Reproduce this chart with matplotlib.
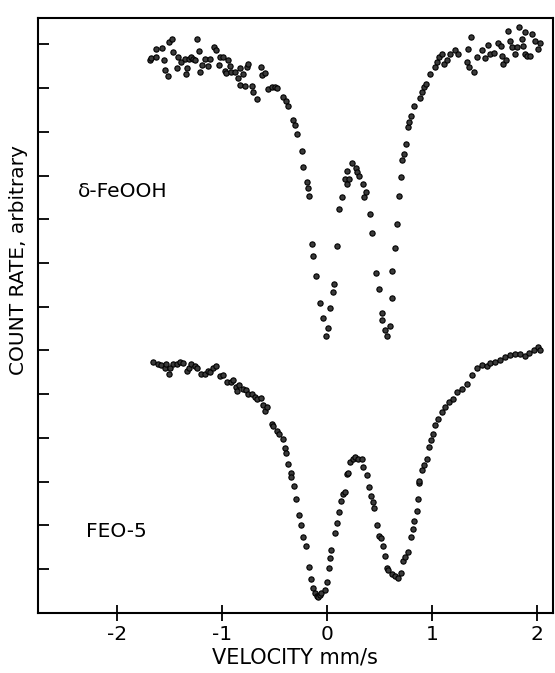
import matplotlib
matplotlib.use('Agg')
import matplotlib.pyplot as plt

plt.rcParams['axes.unicode_minus'] = False
plt.rcParams['font.family'] = ['DejaVu Sans']

# ---- data: delta-FeOOH (upper spectrum) ----
top_v = [-1.686, -1.670, -1.629, -1.622, -1.565, -1.552, -1.543, -1.511, -1.502, -1.479,
         -1.463, -1.431, -1.416, -1.384, -1.352, -1.343, -1.336, -1.311, -1.289, -1.273,
         -1.257, -1.232, -1.216, -1.210, -1.184, -1.162, -1.130, -1.114, -1.076, -1.057,
         -1.026, -1.019, -0.993, -0.971, -0.962, -0.940, -0.924, -0.908, -0.876, -0.845,
         -0.829, -0.829, -0.797, -0.781, -0.765, -0.750, -0.708, -0.702, -0.663, -0.631,
         -0.622, -0.590, -0.559, -0.527, -0.495, -0.479, -0.422, -0.390, -0.368, -0.327,
         -0.305, -0.283, -0.241, -0.225,
         -0.193, -0.178, -0.168, -0.146, -0.136, -0.105, -0.067, -0.035, -0.010, 0.013,
         0.029, 0.054, 0.067, 0.092, 0.114, 0.140, 0.171, 0.188, 0.194, 0.213,
         0.235, 0.273, 0.283, 0.305, 0.340, 0.352, 0.371, 0.410, 0.429, 0.467,
         0.495, 0.521, 0.527, 0.552, 0.568, 0.600, 0.616, 0.625, 0.648, 0.667,
         0.686, 0.705, 0.711, 0.736,
         0.752, 0.774, 0.784, 0.797, 0.832, 0.886, 0.902, 0.924, 0.943, 0.981,
         1.029, 1.045, 1.070, 1.092, 1.114, 1.140, 1.171, 1.219, 1.251, 1.330,
         1.346, 1.355, 1.368, 1.400, 1.426, 1.473, 1.505, 1.537, 1.552, 1.590,
         1.632, 1.654, 1.663, 1.673, 1.705, 1.727, 1.743, 1.759, 1.790, 1.806,
         1.832, 1.854, 1.870, 1.886, 1.886, 1.908, 1.933, 1.949, 1.981, 2.013, 2.029]
top_c = [12.63, 12.68, 12.72, 12.89, 12.91, 12.63, 12.41, 12.27, 13.06, 13.12,
         12.82, 12.45, 12.70, 12.59, 12.66, 12.32, 12.45, 12.66, 12.72, 12.66,
         12.63, 13.12, 12.85, 12.37, 12.53, 12.66, 12.51, 12.66, 12.93, 12.88,
         12.53, 12.70, 12.72, 12.40, 12.34, 12.64, 12.51, 12.36, 12.36, 12.22,
         12.45, 12.07, 12.32, 12.05, 12.47, 12.55, 12.05, 11.90, 11.75, 12.47,
         12.30, 12.34, 11.98, 12.02, 12.02, 11.99, 11.79, 11.71, 11.60, 11.26,
         11.16, 10.95, 10.55, 10.19,
         9.85, 9.71, 9.54, 8.44, 8.16, 7.70, 7.09, 6.74, 6.33, 6.51,
         6.97, 7.34, 7.53, 8.38, 9.24, 9.51, 9.92, 10.10, 9.81, 9.92,
         10.28, 10.17, 10.08, 10.00, 9.81, 9.51, 9.62, 9.11, 8.68, 7.77,
         7.41, 6.86, 6.70, 6.47, 6.33, 6.56, 7.21, 7.81, 8.34, 8.90,
         9.54, 9.96, 10.36, 10.50,
         10.71, 11.12, 11.22, 11.37, 11.58, 11.77, 11.90, 12.03, 12.09, 12.32,
         12.47, 12.59, 12.72, 12.78, 12.55, 12.64, 12.78, 12.87, 12.78, 12.59,
         12.89, 12.47, 13.17, 12.36, 12.72, 12.86, 12.69, 12.99, 12.78, 12.79,
         13.04, 12.97, 12.74, 12.55, 12.63, 13.31, 13.08, 12.93, 12.78, 12.93,
         13.40, 13.12, 12.95, 12.78, 13.27, 12.74, 12.74, 13.23, 13.08, 12.89, 13.04]

# ---- data: FEO-5 (lower spectrum) ----
bot_v = [-1.654, -1.606, -1.575, -1.543, -1.527, -1.502, -1.489, -1.463, -1.431, -1.400,
         -1.368, -1.336, -1.311, -1.289, -1.257, -1.235, -1.194, -1.162, -1.130, -1.108,
         -1.083, -1.051, -1.019, -0.987, -0.949, -0.917, -0.892, -0.867, -0.860, -0.835,
         -0.797, -0.771, -0.750, -0.717, -0.686, -0.663, -0.631, -0.606, -0.590, -0.574,
         -0.527, -0.511, -0.479, -0.454, -0.422, -0.400, -0.390, -0.368, -0.346, -0.337,
         -0.314, -0.295, -0.263, -0.248, -0.225, -0.194, -0.171, -0.152, -0.136, -0.114,
         -0.098, -0.083, -0.067, -0.051, -0.019, -0.003, 0.022, 0.029, 0.044, 0.076,
         0.092, 0.117, 0.133, 0.155, 0.171, 0.194, 0.203, 0.225, 0.245, 0.267,
         0.298, 0.330, 0.346, 0.384, 0.403, 0.425, 0.441, 0.451, 0.479, 0.498,
         0.511, 0.530, 0.552, 0.568, 0.584, 0.616, 0.648, 0.679, 0.702, 0.727,
         0.743, 0.775, 0.797, 0.816, 0.829, 0.854, 0.870, 0.879, 0.879, 0.902,
         0.927, 0.949, 0.971, 0.987, 1.006, 1.029, 1.060, 1.092, 1.124, 1.165,
         1.197, 1.235, 1.283, 1.330, 1.378, 1.425, 1.473, 1.521, 1.552, 1.600,
         1.648, 1.695, 1.743, 1.790, 1.838, 1.886, 1.927, 1.971, 2.013, 2.029]
bot_c = [5.74, 5.68, 5.66, 5.61, 5.70, 5.47, 5.59, 5.68, 5.68, 5.74,
         5.71, 5.53, 5.59, 5.68, 5.64, 5.59, 5.47, 5.47, 5.53, 5.51,
         5.61, 5.64, 5.41, 5.43, 5.28, 5.28, 5.33, 5.17, 5.08, 5.20,
         5.13, 5.09, 5.01, 5.00, 4.94, 4.90, 4.92, 4.75, 4.62, 4.71,
         4.33, 4.27, 4.16, 4.10, 3.97, 3.76, 3.66, 3.40, 3.19, 3.10,
         2.90, 2.60, 2.25, 2.01, 1.73, 1.54, 1.06, 0.78, 0.56, 0.45,
         0.39, 0.37, 0.41, 0.46, 0.53, 0.71, 1.02, 1.25, 1.45, 1.83,
         2.06, 2.31, 2.56, 2.72, 2.77, 3.17, 3.19, 3.45, 3.53, 3.57,
         3.51, 3.53, 3.33, 3.15, 2.87, 2.67, 2.54, 2.39, 2.01, 1.76,
         1.71, 1.53, 1.30, 1.02, 0.98, 0.89, 0.84, 0.81, 0.91, 1.19,
         1.29, 1.40, 1.73, 1.93, 2.11, 2.34, 2.60, 2.96, 3.02, 3.26,
         3.38, 3.53, 3.80, 3.95, 4.10, 4.29, 4.44, 4.60, 4.71, 4.82,
         4.90, 5.05, 5.13, 5.24, 5.43, 5.59, 5.66, 5.64, 5.71, 5.74,
         5.78, 5.85, 5.89, 5.93, 5.91, 5.87, 5.94, 6.00, 6.07, 6.00]

x_ticks = [-2, -1, 0, 1, 2]
x_ticklabels = ['-2', '-1', '0', '1', '2']
y_ticks = list(range(1, 14))

fig = plt.figure(figsize=(5.55, 6.73), dpi=100)
ax = fig.add_axes([0.0685, 0.0892, 0.9273, 0.884])

mk = dict(marker='o', ls='none', ms=3.8, mfc='#3a3a3a', mec='black', mew=0.8)
ax.plot(top_v, top_c, **mk)
ax.plot(bot_v, bot_c, **mk)

ax.set_xlim(-2.75, 2.15)
ax.set_ylim(0, 13.6)
ax.set_xticks(x_ticks)
ax.set_xticklabels(x_ticklabels)
ax.set_yticks(y_ticks)
ax.set_yticklabels([])
ax.tick_params(axis='x', direction='inout', length=12, width=1.3, labelsize=14.5, pad=3)
ax.tick_params(axis='y', direction='in', length=8, width=1.3)
for s in ax.spines.values():
    s.set_linewidth(1.5)

ax.set_xlabel('VELOCITY mm/s', fontsize=15, labelpad=2)
ax.text(-0.037, 0.593, 'COUNT RATE, arbitrary', rotation=90, transform=ax.transAxes,
        ha='center', va='center', fontsize=14.5)
ax.text(-2.37, 9.50, 'δ-FeOOH', fontsize=14.5, va='baseline')
ax.text(-2.29, 1.74, 'FEO-5', fontsize=14.5, va='baseline')

fig.savefig('out.png', dpi=100)
